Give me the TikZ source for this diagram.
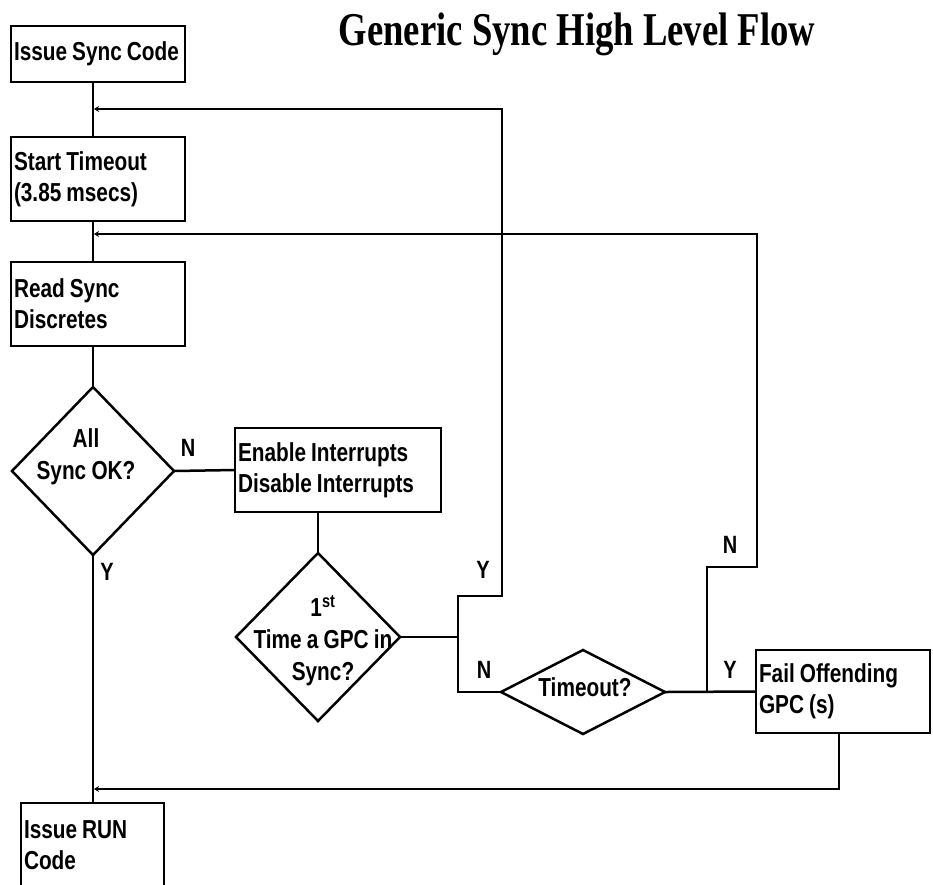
\documentclass[tikz,border=0pt]{standalone}
\usepackage{fontspec}
\newfontfamily\boxfont[FakeStretch=0.8,WordSpace=0.9]{Liberation Sans Bold}
\newfontfamily\titlefont[FakeStretch=0.78]{Liberation Serif Bold}
\usetikzlibrary{shapes.geometric,arrows.meta}
\begin{document}
\begin{tikzpicture}[x=1pt,y=-1pt,
  ln/.style={line width=2.5pt},
  arr/.style={line width=2.5pt,-{Stealth[length=5pt,width=6pt]}},
  box/.style={draw,rectangle,line width=2.5pt,inner xsep=3pt,inner ysep=0pt,outer sep=0pt,align=left,
    font=\boxfont\fontsize{26}{31}\selectfont,
    execute at begin node={\spaceskip=5pt\relax}},
  dia/.style={draw,diamond,line width=2.5pt,inner sep=0pt,outer sep=0pt},
  dtext/.style={align=center,inner sep=0pt,font=\boxfont\fontsize{26}{32}\selectfont},
  lab/.style={inner sep=0pt,font=\boxfont\fontsize{25}{25}\selectfont},
  titlef/.style={inner sep=0pt,font=\titlefont\fontsize{47}{47}\selectfont}]
\useasboundingbox (0,0) rectangle (933,884);
\fill[white] (0,0) rectangle (933,884);

\node[titlef,anchor=base] (title) at (577,45) {Generic Sync High Level Flow};

\node[box,minimum width=174pt,minimum height=56pt,text width=168pt] (isc) at (98,54) {Issue Sync Code};
\node[box,minimum width=174pt,minimum height=84pt,text width=168pt] (sto) at (98,179) {Start Timeout\\(3.85 msecs)};
\node[box,minimum width=174pt,minimum height=84pt,text width=168pt] (rsd) at (98,304) {Read Sync\\Discretes};
\node[box,minimum width=206pt,minimum height=84pt,text width=200pt] (ena) at (338,470) {Enable Interrupts\\Disable Interrupts};
\node[box,minimum width=174pt,minimum height=83pt,text width=168pt] (fail) at (843,691.5) {Fail Offending\\GPC (s)};
\node[box,minimum width=143pt,minimum height=84pt,text width=137pt] (run) at (92.5,845) {Issue RUN\\Code};

\node[dia,minimum width=162pt,minimum height=168pt] (dA) at (93,471) {};
\node[dtext] (dAt) at (86,457) {All\\Sync OK?};
\node[dia,minimum width=164pt,minimum height=168pt] (dB) at (318,637) {};
\node[dtext] (dBt) at (323,641) {1\textsuperscript{st}\\Time a GPC in\\Sync?};
\node[dia,minimum width=164pt,minimum height=84pt] (dT) at (583,692) {};
\node[dtext] (dTt) at (585,687) {Timeout?};

\coordinate (m1) at (93,109);
\coordinate (m1e) at (94,109);
\coordinate (m2) at (93,234);
\coordinate (m2e) at (94,234);
\coordinate (m3e) at (94,789);
\coordinate (j1) at (458,637);
\coordinate (y1a) at (458,596);
\coordinate (y1b) at (502,596);
\coordinate (y1c) at (502,109);
\coordinate (j2) at (707,692);
\coordinate (n2a) at (707,567);
\coordinate (n2b) at (757,567);
\coordinate (f1) at (839,789);

\draw[ln] (isc.south -| m1) -- (sto.north -| m1);
\draw[ln] (sto.south -| m2) -- (rsd.north -| m2);
\draw[ln] (rsd.south -| dA.north) -- (dA.north);
\draw[ln] (dA.south) -- (run.north -| dA.south);
\draw[ln] (dA.east) -- (ena.west);
\draw[ln] (ena.south -| dB.north) -- (dB.north);
\draw[ln] (dB.east) -- (j1);
\draw[arr] (j1) -- (y1a) -- (y1b) -- (y1c) -- (m1e);
\draw[ln] (j1) |- (dT.west);
\draw[ln] (dT.east) -- (fail.west);
\draw[arr] (j2) -- (n2a) -- (n2b) |- (m2e);
\draw[arr] (fail.south -| f1) -- (f1) -- (m3e);

\node[lab] (lN1) at (188,448) {N};
\node[lab] (lY1) at (107,572) {Y};
\node[lab] (lY2) at (483,570) {Y};
\node[lab] (lN2) at (484,670) {N};
\node[lab] (lN3) at (730,545) {N};
\node[lab] (lY3) at (730,670) {Y};
\end{tikzpicture}
\end{document}
